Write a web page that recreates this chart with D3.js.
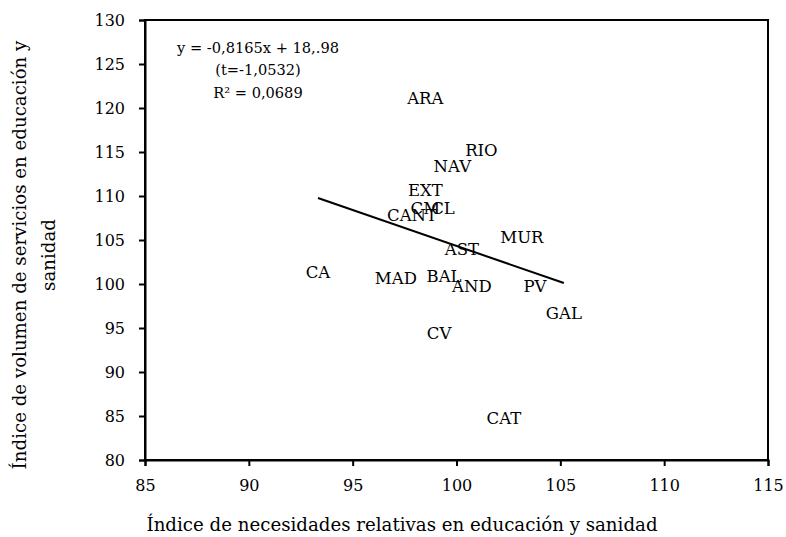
<!DOCTYPE html>
<html>
<head>
<meta charset="utf-8">
<script src="https://cdn.jsdelivr.net/npm/d3@7"></script>
<style>
html,body{margin:0;padding:0;background:#fff;}
svg text{font-family:"DejaVu Serif",serif !important;fill:#000;}
</style>
</head>
<body>
<svg id="chart" width="786" height="537"></svg>
<script>
const regions = ["ARA","RIO","NAV","EXT","CM","CL","CANT","MUR","AST","CA","MAD","BAL","AND","PV","GAL","CV","CAT"];
const necesidades = [98.5,101.2,99.8,98.5,98.5,99.35,97.86,103.15,100.26,93.33,97.08,99.4,100.74,103.78,105.17,99.16,102.28];
const volumen = [121.1,115.2,113.4,110.7,108.6,108.6,107.8,105.3,104.0,101.3,100.7,100.9,99.8,99.8,96.7,94.4,84.7];
const xTicks = [85,90,95,100,105,110,115];
const yTicks = [80,85,90,95,100,105,110,115,120,125,130];
const regression = {slope:-0.8165, intercept:185.98};
const equationLines = ["y = -0,8165x + 18,.98","(t=-1,0532)","R² = 0,0689"];
const xTitle = "Índice de necesidades relativas en educación y sanidad";
const yTitleLines = ["Índice de volumen de servicios en educación y","sanidad"];

const svg = d3.select("#chart");
const L=145, R=768, T=20, B=460;
const x = d3.scaleLinear().domain([85,115]).range([L,R]);
const y = d3.scaleLinear().domain([80,130]).range([B,T]);

svg.append("rect").attr("x",L).attr("y",T).attr("width",R-L).attr("height",B-T)
  .attr("fill","none").attr("stroke","#000").attr("stroke-width",2);

const xAxis = svg.append("g").attr("transform",`translate(0,${B})`)
  .call(d3.axisBottom(x).tickValues(xTicks).tickSize(6).tickPadding(14).tickFormat(d3.format("d")));
const yAxis = svg.append("g").attr("transform",`translate(${L},0)`)
  .call(d3.axisLeft(y).tickValues(yTicks).tickSize(6).tickPadding(14).tickFormat(d3.format("d")));
[xAxis,yAxis].forEach(a=>{
  a.attr("font-family",null);
  a.select(".domain").attr("stroke","#000").attr("stroke-width",2);
  a.selectAll(".tick line").attr("stroke","#000").attr("stroke-width",2);
  a.selectAll(".tick text").attr("font-size",16).attr("fill","#000");
});

const xmin = d3.min(necesidades), xmax = d3.max(necesidades);
svg.append("line")
  .attr("x1",x(xmin)).attr("y1",y(regression.intercept+regression.slope*xmin))
  .attr("x2",x(xmax)).attr("y2",y(regression.intercept+regression.slope*xmax))
  .attr("stroke","#000").attr("stroke-width",2);

svg.append("g").selectAll("text").data(regions).join("text")
  .attr("x",(d,i)=>x(necesidades[i]))
  .attr("y",(d,i)=>y(volumen[i]))
  .attr("dy","0.35em")
  .attr("text-anchor","middle")
  .attr("font-size",16.5)
  .text(d=>d);

svg.append("g").selectAll("text").data(equationLines).join("text")
  .attr("x",258).attr("y",(d,i)=>53+i*22.3)
  .attr("text-anchor","middle").attr("font-size",14.6)
  .text(d=>d);

svg.append("text").attr("x",402).attr("y",531).attr("text-anchor","middle")
  .attr("font-size",18.2).text(xTitle);
svg.append("g").attr("transform","translate(0,255) rotate(-90)")
  .selectAll("text").data(yTitleLines).join("text")
  .attr("x",0).attr("y",(d,i)=>26+i*29)
  .attr("text-anchor","middle").attr("font-size",18.2).text(d=>d);
</script>
</body>
</html>
